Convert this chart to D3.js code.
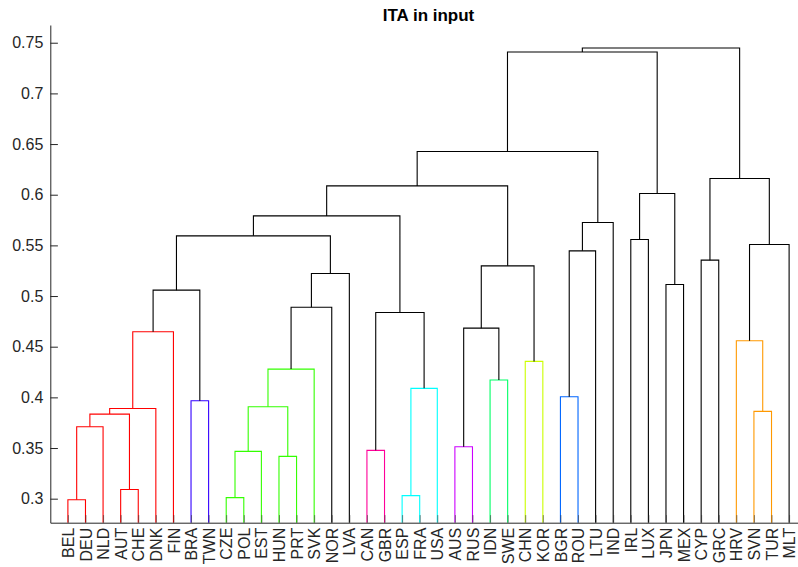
<!DOCTYPE html>
<html>
<head>
<meta charset="utf-8">
<script src="https://cdn.jsdelivr.net/npm/d3@7"></script>
<style>
    body { margin: 0; background: #fff; }
    svg { display: block; font-family: "Liberation Sans", Arial, Helvetica, sans-serif; }
    .axis path, .axis line { stroke: #262626; }
    .axis text { fill: #262626; font-size: 16px; }
</style>
</head>
<body>
<svg id="chart"></svg>
<script>
//----------------------------//
//            DATA            //
//----------------------------//
const leafLabels = ["BEL", "DEU", "NLD", "AUT", "CHE", "DNK", "FIN", "BRA", "TWN", "CZE",
    "POL", "EST", "HUN", "PRT", "SVK", "NOR", "LVA", "CAN", "GBR", "ESP",
    "FRA", "USA", "AUS", "RUS", "IDN", "SWE", "CHN", "KOR", "BGR", "ROU",
    "LTU", "IND", "IRL", "LUX", "JPN", "MEX", "CYP", "GRC", "HRV", "SVN",
    "TUR", "MLT"];

// linkage: "#k" means the k-th merge below, otherwise a leaf label
const mergeLeft = ["BEL", "#0", "AUT", "#1", "#3", "#4", "BRA", "#5", "CZE", "#8",
    "HUN", "#9", "#11", "#12", "#13", "#7", "CAN", "ESP", "#17", "#16",
    "#15", "AUS", "IDN", "#21", "CHN", "#23", "#20", "BGR", "#27", "#28",
    "#26", "IRL", "JPN", "#31", "#30", "CYP", "SVN", "HRV", "#37", "#35", "#34"];
const mergeRight = ["DEU", "NLD", "CHE", "#2", "DNK", "FIN", "TWN", "#6", "POL", "EST",
    "PRT", "#10", "SVK", "NOR", "LVA", "#14", "GBR", "FRA", "USA", "#18",
    "#19", "RUS", "SWE", "#22", "KOR", "#24", "#25", "ROU", "LTU", "IND",
    "#29", "LUX", "MEX", "#32", "#33", "GRC", "TUR", "#36", "MLT", "#38", "#39"];
const mergeHeight = [0.299, 0.371, 0.309, 0.3835, 0.389, 0.4647, 0.3967, 0.5058, 0.301, 0.3467,
    0.3418, 0.3907, 0.4279, 0.489, 0.5223, 0.5594, 0.3477, 0.303, 0.4089, 0.4838,
    0.5791, 0.3513, 0.4171, 0.4683, 0.4355, 0.5298, 0.6087, 0.4006, 0.5446, 0.5726,
    0.6427, 0.5558, 0.5114, 0.6012, 0.7408, 0.5354, 0.3862, 0.4558, 0.5509, 0.616, 0.7448];

const yTickValues = [0.3, 0.35, 0.4, 0.45, 0.5, 0.55, 0.6, 0.65, 0.7, 0.75];
const colorThreshold = 0.466;
const chartTitle = "ITA in input";

// cluster colours, in the order the clusters are found in the linkage
const groupColors = ["#ff0000", "#3300ff", "#33ff00", "#ff0099", "#00ffff",
    "#cc00ff", "#00ff66", "#ccff00", "#0066ff", "#ff9900"];

//----------------------------//
//          PLOTTING          //
//----------------------------//
function plotDendrogram() {
    const width = 798, height = 567;
    const plot = { left: 50.3, right: 806.7, top: 25, bottom: 522.7 };

    const svg = d3.select('#chart')
        .attr('width', width)
        .attr('height', height);

    const x = d3.scaleLinear()
        .domain([0, leafLabels.length + 1])
        .range([plot.left, plot.right]);

    const y = d3.scaleLinear()
        .domain([0.2763, 0.7675])
        .range([plot.bottom, plot.top]);

    // node positions
    const nodeX = (ref) => ref.startsWith('#') ? mergeX[+ref.slice(1)] : leafLabels.indexOf(ref) + 1;
    const nodeH = (ref) => ref.startsWith('#') ? mergeHeight[+ref.slice(1)] : y.domain()[0];
    const mergeX = [];
    mergeHeight.forEach((h, i) => {
        mergeX[i] = (nodeX(mergeLeft[i]) + nodeX(mergeRight[i])) / 2;
    });

    // parent of each merge, to find the coloured clusters
    const parent = [];
    mergeHeight.forEach((h, i) => {
        [mergeLeft[i], mergeRight[i]].forEach(ref => {
            if (ref.startsWith('#')) parent[+ref.slice(1)] = i;
        });
    });
    const mergeColor = [];
    let g = 0;
    mergeHeight.forEach((h, i) => {
        if (h < colorThreshold) {
            const p = parent[i];
            if (p === undefined || mergeHeight[p] >= colorThreshold) mergeColor[i] = groupColors[g++];
        }
    });
    for (let i = mergeHeight.length - 1; i >= 0; i--) {
        if (mergeHeight[i] < colorThreshold && !mergeColor[i]) mergeColor[i] = mergeColor[parent[i]];
    }

    svg.append('g')
        .selectAll('path')
        .data(mergeHeight.map((h, i) => i))
        .enter()
        .append('path')
        .attr('fill', 'none')
        .attr('stroke', (i) => mergeColor[i] || '#000')
        .attr('stroke-width', 1.1)
        .attr('d', (i) => {
            const l = mergeLeft[i], r = mergeRight[i];
            return `M${x(nodeX(l))},${y(nodeH(l))}V${y(mergeHeight[i])}H${x(nodeX(r))}V${y(nodeH(r))}`;
        });

    // axes
    const yAxis = svg.append('g')
        .attr('class', 'axis')
        .attr('transform', `translate(${plot.left},0)`)
        .call(d3.axisLeft(y)
            .tickValues(yTickValues)
            .tickFormat(d => String(+d.toFixed(2)))
            .tickSizeInner(-7.6)
            .tickSizeOuter(0)
            .tickPadding(7));
    yAxis.selectAll('text').attr('x', -7);

    const xAxis = svg.append('g')
        .attr('class', 'axis')
        .attr('transform', `translate(0,${plot.bottom})`)
        .call(d3.axisBottom(x)
            .tickValues(d3.range(1, leafLabels.length + 1))
            .tickFormat(d => leafLabels[d - 1])
            .tickSizeInner(-7.6)
            .tickSizeOuter(0));
    xAxis.selectAll('.tick line').attr('stroke-opacity', 0.55);
    xAxis.selectAll('text')
        .attr('transform', 'rotate(-90)')
        .attr('x', -5)
        .attr('y', 0)
        .attr('dy', '0.35em')
        .attr('text-anchor', 'end');

    svg.append('text')
        .attr('x', (plot.left + plot.right) / 2)
        .attr('y', 20.7)
        .attr('text-anchor', 'middle')
        .attr('font-size', '17px')
        .attr('font-weight', 'bold')
        .attr('fill', '#000')
        .text(chartTitle);
}

document.addEventListener('DOMContentLoaded', () => {
    plotDendrogram();
});
</script>
</body>
</html>
